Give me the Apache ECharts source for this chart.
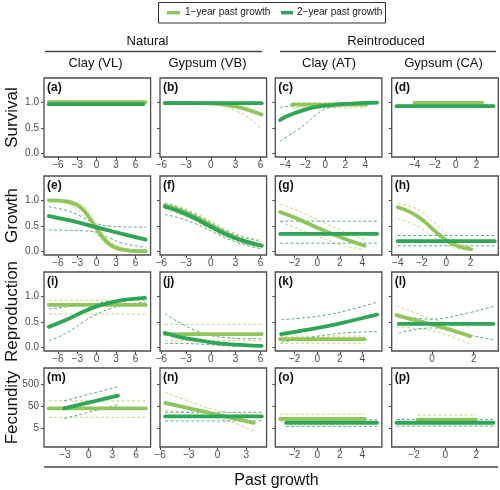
<!DOCTYPE html>
<html><head><meta charset="utf-8">
<script src="https://cdn.jsdelivr.net/npm/echarts@6/dist/echarts.min.js"></script>
<style>html,body{margin:0;padding:0;background:#fff}#c{width:500px;height:490px}</style>
</head><body><div id="c"></div><script>
// ---------- text ----------
const legendNames = ['1\u2212year past growth', '2\u2212year past growth'];
const groupTitles = ['Natural', 'Reintroduced'];
const colTitles = ['Clay (VL)', 'Gypsum (VB)', 'Clay (AT)', 'Gypsum (CA)'];
const rowTitles = ['Survival', 'Growth', 'Reproduction', 'Fecundity'];
const xTitle = 'Past growth';
const panelLetters = ['(a)','(b)','(c)','(d)','(e)','(f)','(g)','(h)','(i)','(j)','(k)','(l)','(m)','(n)','(o)','(p)'];

// ---------- axes ----------
const xTicks = [
  [-6,-3,0,3,6],[-6,-3,0,3,6],[-4,-2,0,2,4],[-4,-2,0,2],
  [-6,-3,0,3,6],[-6,-3,0,3,6],[-2,0,2,4],[-4,-2,0,2],
  [-6,-3,0,3,6],[-6,-3,0,3,6],[-2,0,2,4],[0,2],
  [-3,0,3,6],[-6,-3,0,3],[-2,0,2,4],[-2,0,2]
];
const xRanges = [
  [-8.15,8.35],[-6.16,6.75],[-4.98,5.65],[-6.22,4.12],
  [-8.15,8.35],[-6.16,6.75],[-3.72,5.73],[-4.5,4.3],
  [-8.15,8.35],[-6.16,6.75],[-3.72,5.73],[-1.93,3.18],
  [-5.65,7.83],[-6.02,5.12],[-3.72,5.73],[-3.44,3.41]
];
const yTicksProb = [0, 0.5, 1];
const yRangeProb = [-0.07, 1.47];
const yTicksFec = [5, 50, 500];
const yRangeFecLog = [-0.13, 3.42];

// ---------- data: l = 1-year, d = 2-year, Hi/Lo = dashed bounds ----------
const pa = { l:[[-7.4,1.0],[7.6,1.0]], lHi:[], lLo:[],
  d:[[-7.4,0.96],[7.2,0.96]], dHi:[], dLo:[] };
const pb = { l:[[-5.57,0.985],[-3,0.985],[0,0.975],[1.5,0.955],[3,0.91],[4.5,0.85],[6.16,0.76]],
  lHi:[[-5.57,0.998],[0,0.995],[3,0.985],[6.16,0.95]],
  lLo:[[-5.57,0.97],[-3,0.97],[0,0.955],[1.5,0.92],[3,0.83],[4.5,0.71],[6.16,0.46]],
  d:[[-5.57,0.98],[6.16,0.98]], dHi:[[-5.57,0.995],[6.16,0.995]], dLo:[[-5.57,0.96],[6.16,0.96]] };
const pc = { l:[[-3.3,0.95],[4.1,0.95]], lHi:[[-3.3,0.985],[4.1,0.985]], lLo:[[-3.3,0.89],[4.1,0.89]],
  d:[[-4.5,0.65],[-4,0.71],[-3,0.79],[-2,0.855],[-1,0.9],[0,0.93],[1,0.95],[2,0.965],[3,0.975],[4,0.985],[5.17,0.99]],
  dHi:[[-4.5,0.9],[-3,0.93],[-1,0.955],[1,0.975],[3,0.99],[5.17,1.0]],
  dLo:[[-4.5,0.24],[-3,0.43],[-2,0.57],[-1,0.74],[0,0.87],[1,0.91],[2,0.93],[3,0.95],[4,0.96],[5.17,0.97]] };
const pd = { l:[[-4.0,0.985],[2.55,0.985]], lHi:[[-4.0,1.0],[2.55,1.0]], lLo:[[-4.0,0.955],[2.55,0.955]],
  d:[[-5.75,0.92],[3.65,0.92]], dHi:[[-5.75,0.945],[3.65,0.945]], dLo:[[-5.75,0.895],[3.65,0.895]] };
const pe = { l:[[-7.4,0.995],[-6,0.99],[-5,0.98],[-4,0.955],[-3,0.9],[-2,0.8],[-1,0.63],[0,0.44],[1,0.26],[2,0.14],[3,0.07],[4,0.035],[5,0.017],[6,0.008],[7.6,0.003]],
  lHi:[[-7.4,1.0],[-5,0.995],[-4,0.98],[-3,0.95],[-2,0.88],[-1,0.74],[0,0.53],[1,0.34],[2,0.2],[3,0.12],[4,0.07],[5,0.045],[6,0.03],[7.6,0.02]],
  lLo:[[-7.4,0.975],[-5,0.95],[-4,0.9],[-3,0.82],[-2,0.68],[-1,0.5],[0,0.34],[1,0.19],[2,0.09],[3,0.035],[4,0.012],[5,0.005],[7.6,0.0]],
  d:[[-7.4,0.69],[-4,0.6],[0,0.47],[4,0.34],[7.6,0.23]],
  dHi:[[-7.4,0.87],[-5,0.81],[-3,0.72],[-1.5,0.62],[0,0.54],[2,0.49],[4,0.48],[7.6,0.47]],
  dLo:[[-7.4,0.42],[-4,0.41],[-2,0.4],[0,0.37],[2,0.26],[4,0.16],[7.6,0.08]] };
const pf = { l:[[-5.57,0.9],[-4,0.82],[-2,0.68],[0,0.51],[2,0.34],[4,0.21],[6.16,0.12]],
  lHi:[[-5.57,0.95],[-4,0.88],[-2,0.76],[0,0.59],[2,0.42],[4,0.3],[6.16,0.22]],
  lLo:[[-5.57,0.82],[-4,0.74],[-2,0.6],[0,0.43],[2,0.27],[4,0.15],[6.16,0.07]],
  d:[[-5.57,0.87],[-4,0.79],[-2,0.65],[0,0.48],[2,0.32],[4,0.2],[6.16,0.11]],
  dHi:[[-5.57,0.93],[-4,0.86],[-2,0.73],[0,0.56],[2,0.39],[4,0.27],[6.16,0.19]],
  dLo:[[-5.57,0.72],[-4,0.66],[-2,0.55],[0,0.4],[2,0.25],[4,0.13],[6.16,0.05]] };
const pg = { l:[[-3.29,0.77],[-2,0.66],[-1,0.56],[0,0.46],[1,0.37],[2,0.28],[3,0.2],[4.2,0.11]],
  lHi:[[-3.29,0.92],[-2,0.82],[-1,0.72],[0,0.62],[1,0.52],[2,0.42],[3,0.33],[4.2,0.24]],
  lLo:[[-3.29,0.57],[-2,0.47],[-1,0.38],[0,0.3],[1,0.21],[2,0.13],[3,0.08],[4.2,0.04]],
  d:[[-3.29,0.34],[5.3,0.34]], dHi:[[-3.29,0.59],[5.3,0.59]], dLo:[[-3.29,0.16],[5.3,0.16]] };
const ph = { l:[[-4.0,0.86],[-3,0.77],[-2,0.62],[-1,0.41],[0,0.22],[1,0.1],[2.07,0.04]],
  lHi:[[-4.0,0.93],[-3,0.88],[-2,0.77],[-1,0.57],[0,0.34],[1,0.17],[2.07,0.08]],
  lLo:[[-4.0,0.64],[-3,0.56],[-2,0.44],[-1,0.27],[0,0.12],[1,0.05],[2.07,0.02]],
  d:[[-4.0,0.2],[4.0,0.2]], dHi:[[-4.0,0.31],[4.0,0.31]], dLo:[[-4.0,0.11],[4.0,0.11]] };
const pi = { l:[[-7.4,0.83],[7.6,0.83]], lHi:[[-7.4,0.92],[7.6,0.92]], lLo:[[-7.4,0.65],[7.6,0.65]],
  d:[[-7.4,0.4],[-6,0.47],[-4,0.58],[-2,0.7],[0,0.8],[2,0.87],[4,0.92],[6,0.95],[7.5,0.965]],
  dHi:[[-7.4,0.75],[-4,0.8],[0,0.86],[4,0.94],[7.5,0.99]],
  dLo:[[-7.4,0.13],[-6,0.2],[-4,0.33],[-2,0.5],[0,0.65],[2,0.75],[4,0.82],[6,0.86],[7.5,0.88]] };
const pj = { l:[[-5.57,0.26],[6.16,0.26]], lHi:[[-5.57,0.45],[6.16,0.45]], lLo:[[-5.57,0.13],[6.16,0.13]],
  d:[[-5.57,0.28],[-4,0.21],[-2,0.15],[0,0.1],[2,0.065],[4,0.045],[6.16,0.03]],
  dHi:[[-5.57,0.66],[-4,0.5],[-2,0.34],[0,0.23],[2,0.19],[4,0.17],[6.16,0.17]],
  dLo:[[-5.57,0.08],[-2,0.07],[0,0.05],[2,0.03],[6.16,0.01]] };
const pk = { l:[[-3.29,0.16],[4.2,0.16]], lHi:[[-3.29,0.22],[4.2,0.22]], lLo:[[-3.29,0.08],[4.2,0.08]],
  d:[[-3.2,0.26],[-1,0.34],[1,0.42],[3,0.52],[5.3,0.64]],
  dHi:[[-3.2,0.54],[-1,0.58],[1,0.64],[3,0.74],[5.3,0.88]],
  dLo:[[-3.2,0.1],[-1,0.18],[1,0.25],[3,0.29],[5.3,0.31]] };
const pl = { l:[[-1.7,0.63],[-1,0.55],[0,0.45],[1,0.33],[1.83,0.22]],
  lHi:[[-1.7,0.81],[-1,0.7],[0,0.56],[1,0.46],[1.83,0.39]],
  lLo:[[-1.7,0.4],[-1,0.38],[0,0.33],[1,0.2],[1.83,0.07]],
  d:[[-1.6,0.46],[2.95,0.46]],
  dHi:[[-1.6,0.62],[0,0.55],[1.5,0.65],[2.95,0.8]],
  dLo:[[-1.6,0.28],[0,0.38],[1.5,0.26],[2.95,0.15]] };
const pm = { l:[[-5.04,40],[7.22,40]], lHi:[[-5.04,88],[7.22,88]], lLo:[[-5.04,16],[7.22,16]],
  d:[[-3.1,40],[3.7,150]], dHi:[[-3.1,89],[3.7,380]], dLo:[[-3.1,14],[3.7,59]] };
const pn = { l:[[-5.48,71],[3.78,9]],
  lHi:[[-5.48,215],[-3,85],[0,32],[2,24],[3.78,20]],
  lLo:[[-5.48,32],[-3,26],[0,15],[2,8],[3.78,3.9]],
  d:[[-5.48,17.6],[4.62,17.6]], dHi:[[-5.48,27],[4.62,27]], dLo:[[-5.48,11],[4.62,11]] };
const po = { l:[[-3.29,13.5],[4.2,13.5]], lHi:[[-3.29,22],[4.2,22]], lLo:[[-3.29,10.5],[4.2,10.5]],
  d:[[-2.77,9.1],[5.3,9.1]], dHi:[[-2.77,12.5],[5.3,12.5]], dLo:[[-2.77,6.2],[5.3,6.2]] };
const pp = { l:[[-1.77,12.5],[1.96,12.5]], lHi:[[-1.77,20],[1.96,20]], lLo:[[-1.77,10],[1.96,10]],
  d:[[-3.13,9.1],[3.1,9.1]], dHi:[[-3.13,12.9],[3.1,12.9]], dLo:[[-3.13,6.4],[3.1,6.4]] };
const panels = [pa,pb,pc,pd,pe,pf,pg,ph,pi,pj,pk,pl,pm,pn,po,pp];

// ---------- style ----------
const LIGHT = '#8fc65c', DARK = '#2ea655', LIGHT_CI = '#c5cf6b', DARK_CI = '#4f9e8c';
const FONT = '"Liberation Sans", Arial, sans-serif';
const colLeft = [44, 160, 275.3, 391.7], panelW = 106.6;
const rowTop = [78, 176, 272, 368], panelH = 79;
const AX = '#4d4d4d';

const fmtX = v => (v < 0 ? '\u2212' : '') + Math.abs(v);
const grids = [], xAxes = [], yAxes = [], series = [], graphics = [];

for (let r = 0; r < 4; r++) for (let c = 0; c < 4; c++) {
  const i = r * 4 + c, fec = r === 3;
  grids.push({ left: colLeft[c], top: rowTop[r], width: panelW, height: panelH, show: true,
    borderColor: AX, borderWidth: 1.3, backgroundColor: '#fff', containLabel: false, outerBoundsMode: 'none' });
  xAxes.push({ type: 'value', gridIndex: i, position: 'bottom', min: xRanges[i][0], max: xRanges[i][1],
    axisLine: { show: false, onZero: false }, splitLine: { show: false },
    axisTick: { show: true, length: 3, customValues: xTicks[i], lineStyle: { color: AX, width: 1 } },
    axisLabel: { show: true, customValues: xTicks[i], margin: 3, fontSize: 10, fontFamily: FONT, color: AX, formatter: fmtX } });
  const yt = fec ? yTicksFec.map(v => Math.log10(v)) : yTicksProb;
  const yr = fec ? yRangeFecLog : yRangeProb;
  yAxes.push({ type: 'value', gridIndex: i, position: 'left', min: yr[0], max: yr[1],
    axisLine: { show: false, onZero: false }, splitLine: { show: false },
    axisTick: { show: true, length: 3, customValues: yt, lineStyle: { color: AX, width: 1 } },
    axisLabel: { show: c === 0, customValues: yt, margin: 5, fontSize: 10, fontFamily: FONT, color: AX,
      formatter: fec ? (v => String(Math.round(Math.pow(10, v)))) : (v => v.toFixed(1)) } });
  const p = panels[i];
  const tr = d => fec ? d.map(q => [q[0], Math.log10(q[1])]) : d;
  const add = (data, color, width, dashed, z) => {
    if (!data || !data.length) return;
    series.push({ type: 'line', xAxisIndex: i, yAxisIndex: i, data: tr(data), symbol: 'none', showSymbol: false,
      smooth: data.length > 2 ? 0.4 : false, silent: true, z: z,
      lineStyle: { color: color, width: width, type: dashed ? [3, 2.2] : 'solid', cap: dashed ? 'butt' : 'round' } });
  };
  add(p.lHi, LIGHT_CI, 0.9, true, 2); add(p.lLo, LIGHT_CI, 0.9, true, 2);
  add(p.dHi, DARK_CI, 0.9, true, 2); add(p.dLo, DARK_CI, 0.9, true, 2);
  add(p.l, LIGHT, 3.8, false, 3); add(p.d, DARK, 3.8, false, 4);
  graphics.push({ type: 'text', left: colLeft[c] + 3, top: rowTop[r] + 4,
    style: { text: panelLetters[i], font: 'bold 12px ' + FONT, fill: '#111' } });
}

// headers, titles, legend
graphics.push({ type: 'text', x: 147.5, y: 41, style: { text: groupTitles[0], font: '13px ' + FONT, fill: '#111', align: 'center', verticalAlign: 'middle' } });
graphics.push({ type: 'text', x: 386, y: 41, style: { text: groupTitles[1], font: '13px ' + FONT, fill: '#111', align: 'center', verticalAlign: 'middle' } });
graphics.push({ type: 'line', shape: { x1: 45, y1: 51.5, x2: 262, y2: 51.5 }, style: { stroke: '#444', lineWidth: 1.5 } });
graphics.push({ type: 'line', shape: { x1: 280, y1: 51.5, x2: 496, y2: 51.5 }, style: { stroke: '#444', lineWidth: 1.5 } });
const colCenters = [95.5, 207.5, 329, 443.5];
colTitles.forEach((t, c) => graphics.push({ type: 'text', x: colCenters[c], y: 63.5,
  style: { text: t, font: '13px ' + FONT, fill: '#111', align: 'center', verticalAlign: 'middle' } }));
rowTitles.forEach((t, r) => graphics.push({ type: 'text', x: 12, y: rowTop[r] + panelH / 2, rotation: Math.PI / 2,
  style: { text: t, font: '17px ' + FONT, fill: '#111', align: 'center', verticalAlign: 'middle' } }));
graphics.push({ type: 'line', shape: { x1: 44, y1: 467, x2: 498, y2: 467 }, style: { stroke: '#444', lineWidth: 1.5 } });
graphics.push({ type: 'text', x: 276.5, y: 481, style: { text: xTitle, font: '16px ' + FONT, fill: '#111', align: 'center', verticalAlign: 'middle' } });
graphics.push({ type: 'rect', shape: { x: 158.5, y: 2.5, width: 227, height: 20.5 }, style: { fill: 'none', stroke: '#333', lineWidth: 1 } });
graphics.push({ type: 'line', shape: { x1: 167, y1: 12.7, x2: 180, y2: 12.7 }, style: { stroke: LIGHT, lineWidth: 3.5 } });
graphics.push({ type: 'text', x: 185, y: 12.7, style: { text: legendNames[0], font: '10px ' + FONT, fill: '#222', verticalAlign: 'middle' } });
graphics.push({ type: 'line', shape: { x1: 281, y1: 12.7, x2: 293, y2: 12.7 }, style: { stroke: DARK, lineWidth: 3.5 } });
graphics.push({ type: 'text', x: 297, y: 12.7, style: { text: legendNames[1], font: '10px ' + FONT, fill: '#222', verticalAlign: 'middle' } });

const chart = echarts.init(document.getElementById('c'), null, { renderer: 'canvas' });
chart.setOption({ animation: false, backgroundColor: '#fff', grid: grids, xAxis: xAxes, yAxis: yAxes, series: series, graphic: graphics });
</script></body></html>
